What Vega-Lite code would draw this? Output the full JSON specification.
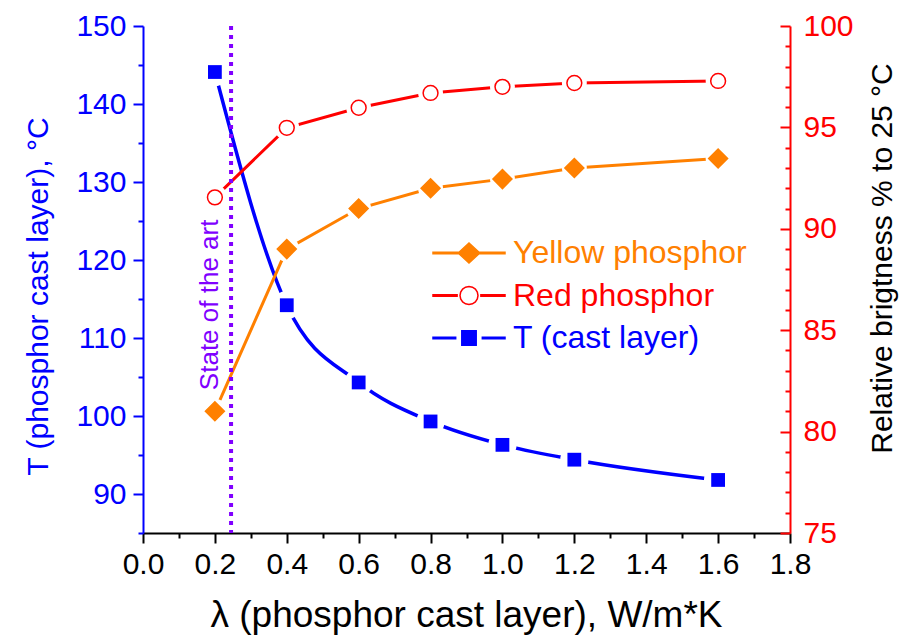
{
  "$schema": "https://vega.github.io/schema/vega-lite/v6.json",
  "width": 647,
  "height": 507,
  "autosize": {"type": "none"},
  "padding": {"left": 143, "top": 26, "right": 114, "bottom": 109},
  "background": "white",
  "config": {
    "view": {"stroke": null},
    "font": "Liberation Sans",
    "axis": {"grid": false, "labelFont": "Liberation Sans", "titleFont": "Liberation Sans", "titleFontWeight": "normal", "labelOverlap": false, "labelFlush": false}
  },
  "datasets": {
    "series": [
      {"lambda": 0.2, "series": "T (cast layer)", "value": 144.1},
      {"lambda": 0.4, "series": "T (cast layer)", "value": 114.2},
      {"lambda": 0.6, "series": "T (cast layer)", "value": 104.3},
      {"lambda": 0.8, "series": "T (cast layer)", "value": 99.3},
      {"lambda": 1.0, "series": "T (cast layer)", "value": 96.3},
      {"lambda": 1.2, "series": "T (cast layer)", "value": 94.4},
      {"lambda": 1.6, "series": "T (cast layer)", "value": 91.8},
      {"lambda": 0.2, "series": "Yellow phosphor", "value": 81.0},
      {"lambda": 0.4, "series": "Yellow phosphor", "value": 89.0},
      {"lambda": 0.6, "series": "Yellow phosphor", "value": 91.0},
      {"lambda": 0.8, "series": "Yellow phosphor", "value": 92.0},
      {"lambda": 1.0, "series": "Yellow phosphor", "value": 92.45},
      {"lambda": 1.2, "series": "Yellow phosphor", "value": 93.0},
      {"lambda": 1.6, "series": "Yellow phosphor", "value": 93.47},
      {"lambda": 0.2, "series": "Red phosphor", "value": 91.55},
      {"lambda": 0.4, "series": "Red phosphor", "value": 94.98},
      {"lambda": 0.6, "series": "Red phosphor", "value": 95.97},
      {"lambda": 0.8, "series": "Red phosphor", "value": 96.7},
      {"lambda": 1.0, "series": "Red phosphor", "value": 97.0},
      {"lambda": 1.2, "series": "Red phosphor", "value": 97.19},
      {"lambda": 1.6, "series": "Red phosphor", "value": 97.29}
    ],
    "annot": [
      {"kind": "rule", "lambda": 0.245, "T": null, "label": ""},
      {"kind": "text", "lambda": 0.186, "T": 114.25, "label": "State of the art"}
    ]
  },
  "encoding": {
    "x": {
      "field": "lambda",
      "type": "quantitative",
      "scale": {"domain": [0, 1.8], "nice": false, "zero": false},
      "axis": {
        "values": [0, 0.1, 0.2, 0.3, 0.4, 0.5, 0.6, 0.7, 0.8, 0.9, 1.0, 1.1, 1.2, 1.3, 1.4, 1.5, 1.6, 1.7, 1.8],
        "labelExpr": "round(datum.value*10) % 2 === 0 ? format(datum.value, '.1f') : ''",
        "tickSize": {"condition": {"test": "round(datum.value*10) % 2 === 0", "value": 10}, "value": 5},
        "tickWidth": 2,
        "domainWidth": 2,
        "domainColor": "black",
        "tickColor": "black",
        "labelColor": "black",
        "labelFontSize": 30,
        "labelPadding": 6,
        "title": "λ (phosphor cast layer), W/m*K",
        "titleFontSize": 37,
        "titleColor": "black",
        "titleX": 323,
        "titleY": 93,
        "titleAlign": "center",
        "titleBaseline": "alphabetic"
      }
    }
  },
  "layer": [
    {
      "data": {"name": "series"},
      "transform": [{"filter": "datum.series === 'T (cast layer)'"}],
      "encoding": {
        "y": {
          "field": "value",
          "type": "quantitative",
          "scale": {"domain": [85, 150], "nice": false, "zero": false},
          "axis": {
            "orient": "left",
            "values": [85, 90, 95, 100, 105, 110, 115, 120, 125, 130, 135, 140, 145, 150],
            "labelExpr": "datum.value % 10 === 0 ? datum.label : ''",
            "tickSize": {"condition": {"test": "datum.value % 10 === 0", "value": 10}, "value": 5},
            "tickWidth": 2,
            "domainWidth": 2,
            "domainColor": "#0000FF",
            "tickColor": "#0000FF",
            "labelColor": "#0000FF",
            "labelFontSize": 30,
            "labelPadding": 7,
            "title": "T (phosphor cast layer), °C",
            "titleColor": "#0000FF",
            "titleFontSize": 30,
            "titleAngle": 270,
            "titleX": -105,
            "titleY": 270,
            "titleAlign": "center",
            "titleBaseline": "middle"
          }
        }
      },
      "layer": [
        {"mark": {"type": "line", "interpolate": "monotone", "color": "#0000FF", "strokeWidth": 3.5}},
        {"mark": {"type": "point", "filled": true, "shape": "circle", "size": 800, "color": "white", "opacity": 1}},
        {"mark": {"type": "point", "filled": true, "shape": "square", "size": 190, "color": "#0000FF", "opacity": 1, "strokeWidth": 1}}
      ]
    },
    {
      "data": {"name": "series"},
      "transform": [{"filter": "datum.series !== 'T (cast layer)'"}],
      "encoding": {
        "y": {
          "field": "value",
          "type": "quantitative",
          "scale": {"domain": [75, 100], "nice": false, "zero": false},
          "axis": {
            "orient": "right",
            "values": [75, 76, 77, 78, 79, 80, 81, 82, 83, 84, 85, 86, 87, 88, 89, 90, 91, 92, 93, 94, 95, 96, 97, 98, 99, 100],
            "labelExpr": "datum.value % 5 === 0 ? datum.label : ''",
            "tickSize": {"condition": {"test": "datum.value % 5 === 0", "value": -10}, "value": -5},
            "tickWidth": 2,
            "domainWidth": 2,
            "domainColor": "#FF0000",
            "tickColor": "#FF0000",
            "labelColor": "#FF0000",
            "labelFontSize": 30,
            "labelPadding": 23,
            "title": "Relative brigtness % to 25 °C",
            "titleColor": "black",
            "titleFontSize": 30,
            "titleAngle": 270,
            "titleX": 92,
            "titleY": 232,
            "titleAlign": "center",
            "titleBaseline": "middle"
          }
        }
      },
      "layer": [
        {
          "transform": [{"filter": "datum.series === 'Yellow phosphor'"}],
          "mark": {"type": "line", "strokeWidth": 3, "color": "#FF8000"}
        },
        {
          "transform": [{"filter": "datum.series === 'Red phosphor'"}],
          "mark": {"type": "line", "strokeWidth": 3, "color": "#FF0000"}
        },
        {"mark": {"type": "point", "filled": true, "shape": "circle", "size": 620, "color": "white", "opacity": 1}},
        {
          "transform": [{"filter": "datum.series === 'Yellow phosphor'"}],
          "mark": {"type": "point", "filled": true, "shape": "diamond", "size": 360, "fill": "#FF8000", "stroke": "#FF8000", "strokeWidth": 1.5, "opacity": 1}
        },
        {
          "transform": [{"filter": "datum.series === 'Red phosphor'"}],
          "mark": {"type": "point", "filled": true, "shape": "circle", "size": 220, "fill": "#FFFFFF", "stroke": "#FF0000", "strokeWidth": 1.5, "opacity": 1}
        }
      ]
    },
    {
      "data": {"name": "series"},
      "mark": {"type": "point", "filled": true, "opacity": 0},
      "encoding": {
        "fill": {
          "field": "series", "type": "nominal",
          "scale": {"domain": ["Yellow phosphor", "Red phosphor", "T (cast layer)"], "range": ["#FF8000", "#FFFFFF", "#0000FF"]},
          "legend": {
            "title": null, "orient": "none", "legendX": 290, "legendY": 211, "padding": 0, "rowPadding": 10.5,
            "labelFontSize": 32, "labelFont": "Liberation Sans", "labelLimit": 500,
            "encoding": {
              "symbols": {
                "shape": {"condition": [
                  {"test": "datum.value === 'Yellow phosphor'", "value": "M-1,-0.02L-0.3,-0.02L-0.3,0.02L-1,0.02Z M0.3,-0.02L1,-0.02L1,0.02L0.3,0.02Z M-0.3,0L0,-0.28L0.3,0L0,0.28Z"},
                  {"test": "datum.value === 'Red phosphor'", "value": "M-1,-0.02L-0.33,-0.02L-0.33,0.02L-1,0.02Z M0.33,-0.02L1,-0.02L1,0.02L0.33,0.02Z M0.25,0L0.231,0.0957L0.1768,0.1768L0.0957,0.231L0,0.25L-0.0957,0.231L-0.1768,0.1768L-0.231,0.0957L-0.25,0L-0.231,-0.0957L-0.1768,-0.1768L-0.0957,-0.231L0,-0.25L0.0957,-0.231L0.1768,-0.1768L0.231,-0.0957Z"}
                ], "value": "M-1,-0.02L-0.37,-0.02L-0.37,0.02L-1,0.02Z M0.37,-0.02L1,-0.02L1,0.02L0.37,0.02Z M-0.2,-0.2L0.2,-0.2L0.2,0.2L-0.2,0.2Z"},
                "size": {"value": 5184},
                "strokeWidth": {"value": 1.5},
                "opacity": {"value": 1},
                "x": {"value": 36},
                "y": {"value": 16}
              },
              "labels": {
                "fill": {"condition": [
                  {"test": "datum.value === 'Yellow phosphor'", "value": "#FF8000"},
                  {"test": "datum.value === 'Red phosphor'", "value": "#FF0000"}
                ], "value": "#0000FF"},
                "x": {"value": 80},
                "y": {"value": 16}
              }
            }
          }
        },
        "stroke": {
          "field": "series", "type": "nominal",
          "scale": {"domain": ["Yellow phosphor", "Red phosphor", "T (cast layer)"], "range": ["#FF8000", "#FF0000", "#0000FF"]}
        }
      }
    },
    {
      "data": {"name": "annot"},
      "layer": [
        {
          "transform": [{"filter": "datum.kind === 'rule'"}],
          "mark": {"type": "rule", "color": "#8000FF", "strokeWidth": 4, "strokeDash": [4, 5]},
          "encoding": {}
        },
        {
          "transform": [{"filter": "datum.kind === 'text'"}],
          "mark": {"type": "text", "angle": 270, "color": "#8000FF", "fontSize": 26, "font": "Liberation Sans", "align": "center", "baseline": "middle"},
          "encoding": {
            "y": {"field": "T", "type": "quantitative", "scale": {"domain": [85, 150], "nice": false, "zero": false}, "axis": null},
            "text": {"field": "label"}
          }
        }
      ]
    }
  ],
  "resolve": {"scale": {"y": "independent"}, "axis": {"y": "independent"}}
}
